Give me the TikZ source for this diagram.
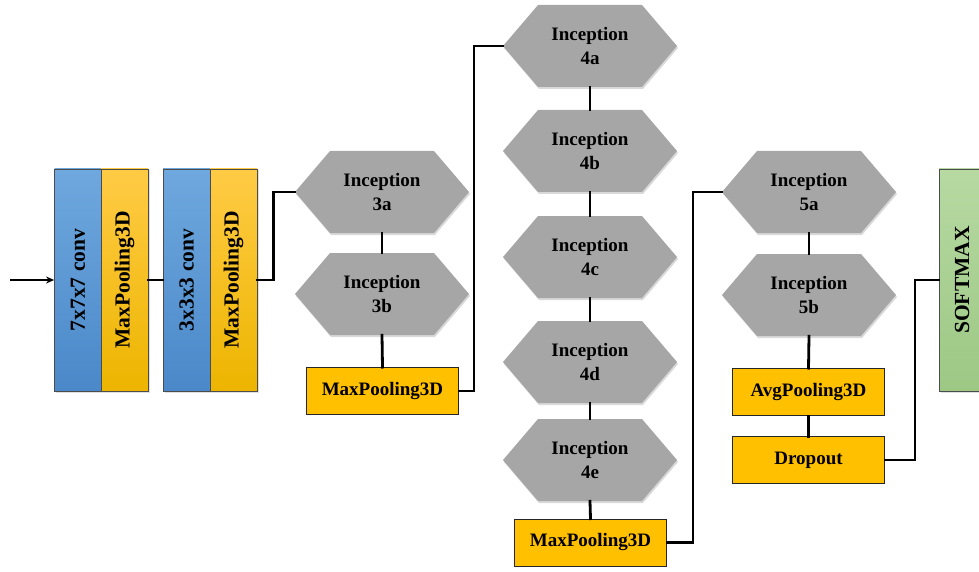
\documentclass[tikz,border=0pt]{standalone}
\usepackage{fontspec}
\setmainfont{Liberation Serif}
\usetikzlibrary{shadows,arrows.meta,calc}
\definecolor{blueT}{HTML}{6FA8DE}
\definecolor{blueB}{HTML}{4A88C9}
\definecolor{yelT}{HTML}{FFCB45}
\definecolor{yelB}{HTML}{EDB500}
\definecolor{yel}{HTML}{FFC000}
\definecolor{hexgray}{HTML}{A6A6A6}
\definecolor{grnT}{HTML}{B7D9A2}
\definecolor{grnB}{HTML}{9CC884}
\newcommand\hexat[4]{%
  \fill[hexgray, drop shadow={opacity=0.3, shadow xshift=1pt, shadow yshift=-2pt}]
    (#2-87,#3) -- (#2-52,#3-41) -- (#2+52,#3-41) -- (#2+87,#3) -- (#2+52,#3+41) -- (#2-52,#3+41) -- cycle;
  \node[hexlabel] (#1) at (#2,#3) {#4};}
\begin{document}
\begin{tikzpicture}[x=1pt,y=-1pt,
  tallbox/.style={draw=black!70, line width=0.8pt, minimum width=47pt, minimum height=222pt, inner sep=0pt,
    font=\fontsize{21.5}{24}\selectfont\bfseries,
    drop shadow={opacity=0.25, shadow xshift=1.5pt, shadow yshift=-1.5pt}},
  bluebox/.style={tallbox, top color=blueT, bottom color=blueB},
  yelbox/.style={tallbox, top color=yelT, bottom color=yelB},
  grnbox/.style={tallbox, top color=grnT, bottom color=grnB, minimum width=46pt},
  poolbox/.style={draw=black!85, line width=0.8pt, fill=yel, minimum width=152pt, minimum height=47pt, inner sep=0pt,
    font=\fontsize{19}{22}\selectfont\bfseries},
  hexlabel/.style={minimum width=174pt, minimum height=82pt, inner sep=0pt, align=center,
    font=\fontsize{19}{24}\selectfont\bfseries},
  conn/.style={line width=2.8pt, line join=miter, line cap=rect}
]
\useasboundingbox (0,0) rectangle (979,572);

% left stack
\node[bluebox] (b1) at (78,280) {\rotatebox{90}{7x7x7 conv}};
\node[yelbox]  (y1) at (124.5,280) {\rotatebox{90}{MaxPooling3D}};
\node[bluebox] (b2) at (186.5,280) {\rotatebox{90}{3x3x3 conv}};
\node[yelbox]  (y2) at (233.5,280) {\rotatebox{90}{MaxPooling3D}};

% inception 3
\hexat{h3a}{382}{192}{Inception\\3a}
\hexat{h3b}{382}{294}{Inception\\3b}
\node[poolbox] (mp3) at (382.5,391) {MaxPooling3D};

% inception 4
\hexat{h4a}{590}{46}{Inception\\4a}
\hexat{h4b}{590}{151}{Inception\\4b}
\hexat{h4c}{590}{257}{Inception\\4c}
\hexat{h4d}{590}{362}{Inception\\4d}
\hexat{h4e}{590}{460}{Inception\\4e}
\node[poolbox] (mp4) at (590.5,542.5) {MaxPooling3D};

% inception 5
\hexat{h5a}{809}{192}{Inception\\5a}
\hexat{h5b}{809}{295}{Inception\\5b}
\node[poolbox] (avg) at (808.5,392) {AvgPooling3D};
\node[poolbox] (drop) at (808.5,460) {Dropout};

% softmax
\node[grnbox] (soft) at (962,280) {\rotatebox{90}{SOFTMAX}};

% connectors
\coordinate (in) at (10,280);
\draw[line width=1.6pt, -{Stealth[length=8pt,width=7pt]}] (in) -- (b1.west);
\draw[conn] (y1.east) -- (b2.west);
\draw[conn] (y2.east) -- ++(16,0) |- (h3a.west);
\draw[conn] (h3a.south) -- (h3b.north);
\draw[conn] (h3b.south) -- (mp3.north);
\draw[conn] (mp3.east) -- ++(15,0) |- (h4a.west);
\draw[conn] (h4a.south) -- (h4b.north);
\draw[conn] (h4b.south) -- (h4c.north);
\draw[conn] (h4c.south) -- (h4d.north);
\draw[conn] (h4d.south) -- (h4e.north);
\draw[conn] (h4e.south) -- (mp4.north);
\draw[conn] (mp4.east) -- ++(26,0) |- (h5a.west);
\draw[conn] (h5a.south) -- (h5b.north);
\draw[conn] (h5b.south) -- (avg.north);
\draw[conn] (avg.south) -- (drop.north);
\draw[conn] (drop.east) -- ++(30,0) |- (soft.west);
\end{tikzpicture}
\end{document}
